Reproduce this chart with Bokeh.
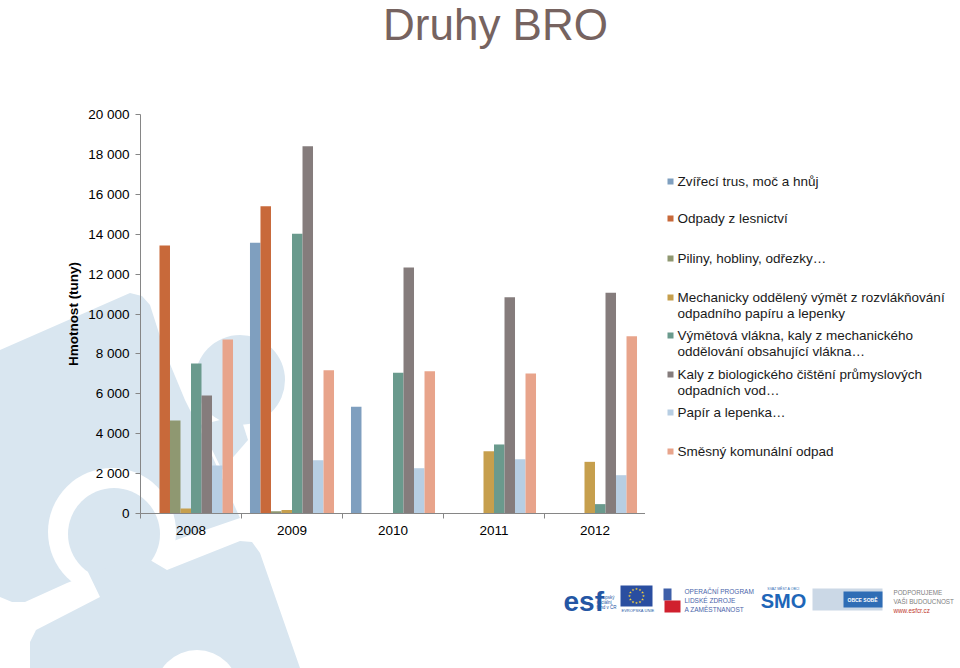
import math
import base64
from bokeh.plotting import figure
from bokeh.models import ColumnDataSource, FixedTicker, Range1d
from bokeh.layouts import column, row
from bokeh.transform import dodge
from bokeh.core.properties import value
from bokeh.embed import file_html
from bokeh.resources import INLINE

# ---------------- data ----------------
years = ["2008", "2009", "2010", "2011", "2012"]

series_names = [
    "Zvířecí trus, moč a hnůj",
    "Odpady z lesnictví",
    "Piliny, hobliny, odřezky…",
    "Mechanicky oddělený výmět z rozvlákňování",
    "Výmětová vlákna, kaly z mechanického",
    "Kaly z biologického čištění průmyslových",
    "Papír a lepenka…",
    "Směsný komunální odpad",
]
series_second_lines = [
    "",
    "",
    "",
    "odpadního papíru a lepenky",
    "oddělování obsahující vlákna…",
    "odpadních vod…",
    "",
    "",
]

zvireci_trus = [0, 13570, 5350, 0, 0]
odpady_lesnictvi = [13430, 15400, 20, 0, 0]
piliny_hobliny = [4660, 110, 30, 0, 0]
mech_vymet = [250, 170, 0, 3120, 2590]
vymetova_vlakna = [7520, 14020, 7050, 3460, 470]
kaly_biolog = [5910, 18410, 12330, 10840, 11060]
papir_lepenka = [2400, 2670, 2270, 2720, 1920]
smesny_odpad = [8720, 7180, 7130, 7020, 8890]

series_values = [zvireci_trus, odpady_lesnictvi, piliny_hobliny, mech_vymet,
                 vymetova_vlakna, kaly_biolog, papir_lepenka, smesny_odpad]

colors = ["#7F9FBF", "#C8693A", "#8F9871", "#C69F4D",
          "#6A9A8D", "#857C7C", "#B7CEE3", "#E8A48B"]

y_ticks = [0, 2000, 4000, 6000, 8000, 10000, 12000, 14000, 16000, 18000, 20000]
y_tick_labels = ["0", "2 000", "4 000", "6 000", "8 000", "10 000",
                 "12 000", "14 000", "16 000", "18 000", "20 000"]

title_text = "Druhy BRO"
y_axis_title = "Hmotnost (tuny)"

# ---------------- layout constants (canvas px) ----------------
W, H = 960, 668
TOP_H = 60           # title strip
MID_H = 500          # chart + legend strip
BOT_H = H - TOP_H - MID_H
CHART_W = 645
FL, FT, FB = 140, 114, 513
FONT = "Liberation Sans"

# faint puzzle-piece decoration of the slide background (page CSS)
deco = "#D9E6F0"
bg_svg = (
    f'<svg xmlns="http://www.w3.org/2000/svg" width="{W}" height="{H}">'
    f'<rect width="{W}" height="{H}" fill="#ffffff"/>'
    # upper piece
    f'<polygon points="0,350 130,293 142,296 150,305 165,352 185,400 205,440 '
    f'222,478 240,518 176,540 67,583 25,602 12,602 0,597" fill="{deco}"/>'
    f'<circle cx="240" cy="380" r="45" fill="{deco}"/>'
    f'<polygon points="200,425 240,415 248,440 222,470" fill="{deco}"/>'
    # gap ring around the lower knob
    f'<circle cx="112" cy="532" r="64" fill="#ffffff"/>'
    f'<circle cx="114" cy="534" r="46" fill="{deco}"/>'
    # lower piece
    f'<polygon points="30,668 30,642 36,630 100,597 88,572 150,560 167,570 '
    f'240,541 252,542 260,553 300,668" fill="{deco}"/>'
    f'<circle cx="197" cy="692" r="42" fill="#ffffff"/>'
    '</svg>'
)
bg_uri = "data:image/svg+xml;base64," + base64.b64encode(bg_svg.encode()).decode()


def blank(width, height, x0, x1, y0, y1, **kw):
    f = figure(width=width, height=height, x_range=Range1d(x0, x1),
               y_range=Range1d(y1, y0), output_backend="svg",
               toolbar_location=None, **kw)
    f.axis.visible = False
    f.grid.visible = False
    f.outline_line_color = None
    f.background_fill_alpha = 0
    f.border_fill_alpha = 0
    return f


def txt(f, x, y, s, size, color, bold=False, align="left"):
    f.text(x=[x], y=[y], text=[s], text_font=value(FONT),
           text_font_size=value(f"{size}px"), text_color=color,
           text_align=align, text_baseline="middle",
           text_font_style="bold" if bold else "normal")


def rectpx(f, x0, y0, x1, y1, color):
    f.quad(left=[x0], right=[x1], top=[y0], bottom=[y1],
           fill_color=color, line_color=None)


# ---------------- title ----------------
title_fig = blank(W, TOP_H, 0, W, 0, TOP_H, min_border=0)
txt(title_fig, 495, 24, title_text, 44, "#766360", align="center")

# ---------------- chart ----------------
p = figure(width=CHART_W, height=MID_H,
           x_range=Range1d(0, len(years)), y_range=Range1d(0, 20000),
           output_backend="svg", toolbar_location=None,
           min_border_left=FL, min_border_right=0,
           min_border_top=FT - TOP_H, min_border_bottom=TOP_H + MID_H - FB)
p.outline_line_color = None
p.xgrid.grid_line_color = None
p.ygrid.grid_line_color = None
p.background_fill_alpha = 0
p.border_fill_alpha = 0

centers = [i + 0.5 for i in range(len(years))]
n = len(series_names)
bar_w = 0.104

for k in range(n):
    src = ColumnDataSource(dict(x=centers, top=series_values[k]))
    p.vbar(x=dodge("x", (k - (n - 1) / 2) * bar_w, range=p.x_range),
           top="top", width=bar_w, bottom=0, source=src,
           fill_color=colors[k], line_color=None)

axis_col = "#868686"
xa = p.xaxis[0]
xa.ticker = FixedTicker(ticks=centers, minor_ticks=list(range(len(years) + 1)))
xa.major_label_overrides = {c: y for c, y in zip(centers, years)}
xa.major_tick_out = 0
xa.major_tick_in = 0
xa.minor_tick_out = 5
xa.minor_tick_in = 0
xa.minor_tick_line_color = axis_col
xa.axis_line_color = axis_col
xa.major_label_text_font = FONT
xa.major_label_text_font_size = "13.5px"
xa.major_label_text_color = "#000000"
xa.major_label_standoff = 7

ya = p.yaxis[0]
ya.ticker = FixedTicker(ticks=y_ticks)
ya.major_label_overrides = dict(zip(y_ticks, y_tick_labels))
ya.major_tick_out = 5
ya.major_tick_in = 0
ya.major_tick_line_color = axis_col
ya.minor_tick_line_color = None
ya.axis_line_color = axis_col
ya.major_label_text_font = FONT
ya.major_label_text_font_size = "13.5px"
ya.major_label_text_color = "#000000"
ya.major_label_standoff = 6
ya.axis_label = y_axis_title
ya.axis_label_text_font = FONT
ya.axis_label_text_font_size = "13.5px"
ya.axis_label_text_font_style = "bold"
ya.axis_label_text_color = "#000000"
ya.axis_label_standoff = 4

# ---------------- legend (frame aligned with the chart frame) ----------------
leg = blank(W - CHART_W, MID_H, CHART_W, W, FT, FB,
            min_border_left=0, min_border_right=0,
            min_border_top=FT - TOP_H, min_border_bottom=TOP_H + MID_H - FB)
first_line_y = [181, 218, 258, 297, 335, 374, 412, 451]
leg.quad(left=[667] * n, right=[673] * n,
         top=[y - 3 for y in first_line_y], bottom=[y + 3 for y in first_line_y],
         fill_color=colors, line_color=None)
leg.text(x=[677] * n, y=first_line_y, text=series_names,
         text_font=value(FONT), text_font_size=value("13.5px"),
         text_color="#1a1a1a", text_baseline="middle")
sec_y = [y + 16 for y, s in zip(first_line_y, series_second_lines) if s]
sec_t = [s for s in series_second_lines if s]
leg.text(x=[677] * len(sec_t), y=sec_y, text=sec_t,
         text_font=value(FONT), text_font_size=value("13.5px"),
         text_color="#1a1a1a", text_baseline="middle")

# ---------------- logo strip ----------------
logo = blank(W, BOT_H, 0, W, TOP_H + MID_H, H, min_border=0)
txt(logo, 563, 601, "esf", 28, "#2456A4", bold=True)
txt(logo, 596, 597, "evropský", 4.5, "#2456A4")
txt(logo, 596, 602, "sociální", 4.5, "#2456A4")
txt(logo, 596, 607, "fond v ČR", 4.5, "#2456A4")
rectpx(logo, 620, 585, 652, 606, "#2A4EA0")
star_x = [636 + 7 * math.cos(a * math.pi / 6) for a in range(12)]
star_y = [595.5 + 7 * math.sin(a * math.pi / 6) for a in range(12)]
logo.scatter(star_x, star_y, marker="star", size=3, fill_color="#F4D03F",
             line_color=None)
txt(logo, 621, 610, "EVROPSKÁ UNIE", 4, "#2456A4")
rectpx(logo, 663, 588, 671, 600, "#3E5FA8")
rectpx(logo, 664, 600, 680, 612, "#D0202E")
txt(logo, 684, 591, "OPERAČNÍ PROGRAM", 6.5, "#4A64AA")
txt(logo, 684, 600, "LIDSKÉ ZDROJE", 6.5, "#4A64AA")
txt(logo, 684, 609, "A ZAMĚSTNANOST", 6.5, "#4A64AA")
txt(logo, 783, 588, "SVAZ MĚST A OBCÍ", 3.5, "#2F6DB5", align="center")
txt(logo, 783, 600, "SMO", 20, "#1E66B8", bold=True, align="center")
rectpx(logo, 812, 588, 882, 610, "#CBD8E6")
rectpx(logo, 843, 591, 882, 607, "#2F6DB5")
txt(logo, 862, 599, "OBCE SOBĚ", 5, "#FFFFFF", bold=True, align="center")
txt(logo, 893, 592, "PODPORUJEME", 6.3, "#808080")
txt(logo, 893, 601, "VAŠI BUDOUCNOST", 6.3, "#808080")
txt(logo, 893, 610, "www.esfcr.cz", 6.3, "#C0392B")

page = column(title_fig, row(p, leg), logo,
              styles={"background": f"#ffffff url({bg_uri}) no-repeat 0 0",
                      "width": f"{W}px", "height": f"{H}px"})
open("out.html", "w").write(file_html(page, INLINE))
